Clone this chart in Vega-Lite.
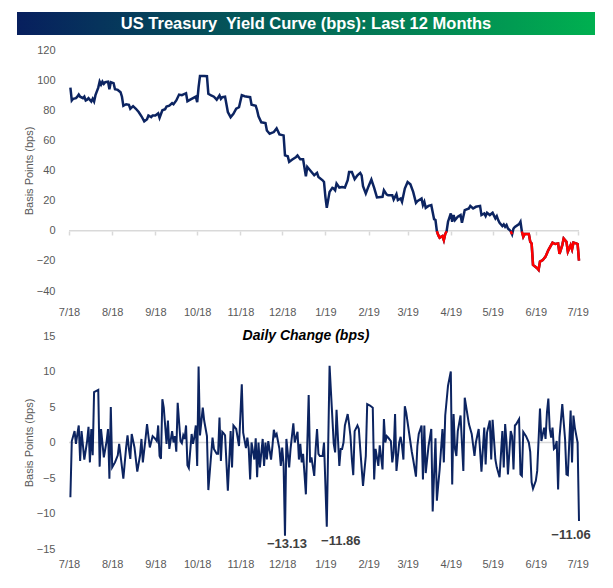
{
  "$schema": "https://vega.github.io/schema/vega-lite/v6.json",
  "padding": {"left": 17, "top": 12, "right": 10, "bottom": 5},
  "background": "white",
  "spacing": 9,
  "config": {
    "font": "Liberation Sans",
    "view": {"stroke": null},
    "axis": {"labelFont": "Liberation Sans", "labelColor": "#595959", "labelFontSize": 11, "titleFont": "Liberation Sans", "titleColor": "#595959", "titleFontSize": 11, "titleFontWeight": "normal", "grid": false, "domain": false, "ticks": false, "labelOverlap": false}
  },
  "datasets": {
    "banner": [{"title": "US Treasury\u00a0 Yield Curve (bps): Last 12 Months"}],
    "level": [
      {"date": "2018-07-02", "bps": 95}, {"date": "2018-07-03", "bps": 86.5}, {"date": "2018-07-04", "bps": 87.6}, {"date": "2018-07-06", "bps": 88}, {"date": "2018-07-07", "bps": 89}, {"date": "2018-07-08", "bps": 90.4}, {"date": "2018-07-09", "bps": 89}, {"date": "2018-07-11", "bps": 88}, {"date": "2018-07-12", "bps": 89}, {"date": "2018-07-13", "bps": 86.5}, {"date": "2018-07-14", "bps": 87}, {"date": "2018-07-15", "bps": 88}, {"date": "2018-07-17", "bps": 85.8}, {"date": "2018-07-18", "bps": 87.6}, {"date": "2018-07-19", "bps": 85.8}, {"date": "2018-07-20", "bps": 90}, {"date": "2018-07-22", "bps": 95}, {"date": "2018-07-23", "bps": 99}, {"date": "2018-07-24", "bps": 97}, {"date": "2018-07-25", "bps": 99}, {"date": "2018-07-26", "bps": 97.5}, {"date": "2018-07-27", "bps": 98.6}, {"date": "2018-07-29", "bps": 99}, {"date": "2018-07-30", "bps": 94}, {"date": "2018-07-31", "bps": 98.6},
      {"date": "2018-08-02", "bps": 98}, {"date": "2018-08-03", "bps": 94}, {"date": "2018-08-05", "bps": 93.5}, {"date": "2018-08-07", "bps": 92}, {"date": "2018-08-08", "bps": 89}, {"date": "2018-08-09", "bps": 83}, {"date": "2018-08-11", "bps": 84}, {"date": "2018-08-13", "bps": 83.6}, {"date": "2018-08-14", "bps": 81}, {"date": "2018-08-16", "bps": 82.7}, {"date": "2018-08-18", "bps": 81}, {"date": "2018-08-20", "bps": 78.8}, {"date": "2018-08-22", "bps": 76}, {"date": "2018-08-24", "bps": 72.6}, {"date": "2018-08-26", "bps": 74}, {"date": "2018-08-27", "bps": 76.5}, {"date": "2018-08-29", "bps": 75.4}, {"date": "2018-08-30", "bps": 76.5},
      {"date": "2018-09-01", "bps": 76.5}, {"date": "2018-09-03", "bps": 78}, {"date": "2018-09-04", "bps": 75}, {"date": "2018-09-06", "bps": 80}, {"date": "2018-09-08", "bps": 80.7}, {"date": "2018-09-09", "bps": 82.5}, {"date": "2018-09-11", "bps": 83}, {"date": "2018-09-13", "bps": 84.7}, {"date": "2018-09-14", "bps": 84}, {"date": "2018-09-16", "bps": 86.5}, {"date": "2018-09-18", "bps": 90.4}, {"date": "2018-09-20", "bps": 90}, {"date": "2018-09-23", "bps": 91.3}, {"date": "2018-09-24", "bps": 86}, {"date": "2018-09-26", "bps": 87}, {"date": "2018-09-28", "bps": 88}, {"date": "2018-09-30", "bps": 89},
      {"date": "2018-10-01", "bps": 85.4}, {"date": "2018-10-02", "bps": 95.3}, {"date": "2018-10-03", "bps": 102.8}, {"date": "2018-10-06", "bps": 102.8}, {"date": "2018-10-08", "bps": 102.6}, {"date": "2018-10-09", "bps": 91}, {"date": "2018-10-11", "bps": 89.8}, {"date": "2018-10-13", "bps": 89}, {"date": "2018-10-15", "bps": 87}, {"date": "2018-10-17", "bps": 89.8}, {"date": "2018-10-18", "bps": 87.6}, {"date": "2018-10-19", "bps": 88.7}, {"date": "2018-10-21", "bps": 89}, {"date": "2018-10-23", "bps": 78.8}, {"date": "2018-10-25", "bps": 75.4}, {"date": "2018-10-27", "bps": 77.6}, {"date": "2018-10-29", "bps": 81}, {"date": "2018-10-31", "bps": 82},
      {"date": "2018-11-02", "bps": 90}, {"date": "2018-11-04", "bps": 89.3}, {"date": "2018-11-06", "bps": 89}, {"date": "2018-11-08", "bps": 88.7}, {"date": "2018-11-09", "bps": 83.6}, {"date": "2018-11-12", "bps": 83}, {"date": "2018-11-13", "bps": 80}, {"date": "2018-11-14", "bps": 76}, {"date": "2018-11-16", "bps": 72}, {"date": "2018-11-19", "bps": 71.5}, {"date": "2018-11-20", "bps": 66.6}, {"date": "2018-11-22", "bps": 64.4}, {"date": "2018-11-25", "bps": 65.5}, {"date": "2018-11-27", "bps": 68}, {"date": "2018-11-29", "bps": 64},
      {"date": "2018-12-02", "bps": 63.3}, {"date": "2018-12-03", "bps": 50}, {"date": "2018-12-05", "bps": 49.4}, {"date": "2018-12-06", "bps": 45.7}, {"date": "2018-12-08", "bps": 47.2}, {"date": "2018-12-11", "bps": 49}, {"date": "2018-12-12", "bps": 50}, {"date": "2018-12-14", "bps": 47.4}, {"date": "2018-12-16", "bps": 47.4}, {"date": "2018-12-18", "bps": 36.2}, {"date": "2018-12-19", "bps": 42.4}, {"date": "2018-12-21", "bps": 40.2}, {"date": "2018-12-24", "bps": 36.8}, {"date": "2018-12-26", "bps": 38.4}, {"date": "2018-12-27", "bps": 35.7}, {"date": "2018-12-30", "bps": 33.5}, {"date": "2018-12-31", "bps": 32.4},
      {"date": "2019-01-01", "bps": 22.5}, {"date": "2019-01-02", "bps": 15.2}, {"date": "2019-01-04", "bps": 25.8}, {"date": "2019-01-06", "bps": 28.5}, {"date": "2019-01-07", "bps": 28}, {"date": "2019-01-08", "bps": 26.9}, {"date": "2019-01-09", "bps": 31.3}, {"date": "2019-01-11", "bps": 28.7}, {"date": "2019-01-13", "bps": 29.1}, {"date": "2019-01-15", "bps": 28.7}, {"date": "2019-01-17", "bps": 33.5}, {"date": "2019-01-18", "bps": 39}, {"date": "2019-01-20", "bps": 39}, {"date": "2019-01-22", "bps": 34.2}, {"date": "2019-01-24", "bps": 36.8}, {"date": "2019-01-26", "bps": 38.4}, {"date": "2019-01-27", "bps": 36.8}, {"date": "2019-01-28", "bps": 29.6}, {"date": "2019-01-30", "bps": 24.7},
      {"date": "2019-02-01", "bps": 29.6}, {"date": "2019-02-03", "bps": 34}, {"date": "2019-02-05", "bps": 28.5}, {"date": "2019-02-07", "bps": 22.1}, {"date": "2019-02-11", "bps": 22.5}, {"date": "2019-02-12", "bps": 26.9}, {"date": "2019-02-14", "bps": 24}, {"date": "2019-02-15", "bps": 23.6}, {"date": "2019-02-18", "bps": 23.6}, {"date": "2019-02-19", "bps": 20.7}, {"date": "2019-02-21", "bps": 24.3}, {"date": "2019-02-22", "bps": 20.3}, {"date": "2019-02-24", "bps": 21.4}, {"date": "2019-02-25", "bps": 19.2}, {"date": "2019-02-27", "bps": 28},
      {"date": "2019-03-01", "bps": 32.4}, {"date": "2019-03-03", "bps": 30.9}, {"date": "2019-03-05", "bps": 25.8}, {"date": "2019-03-07", "bps": 18.5}, {"date": "2019-03-08", "bps": 19.6}, {"date": "2019-03-11", "bps": 21.4}, {"date": "2019-03-12", "bps": 17}, {"date": "2019-03-13", "bps": 19.2}, {"date": "2019-03-14", "bps": 15.2}, {"date": "2019-03-16", "bps": 16.5}, {"date": "2019-03-18", "bps": 17}, {"date": "2019-03-20", "bps": 7.7}, {"date": "2019-03-21", "bps": 7.1},
      {"date": "2019-03-22", "bps": -0.3, "episode": 1}, {"date": "2019-03-23", "bps": -2.9, "episode": 1}, {"date": "2019-03-24", "bps": -4.6, "episode": 1}, {"date": "2019-03-26", "bps": -3.5, "episode": 1}, {"date": "2019-03-27", "bps": -6.2, "episode": 1}, {"date": "2019-03-28", "bps": -2.2, "episode": 1}, {"date": "2019-03-29", "bps": -0.3, "episode": 1},
      {"date": "2019-03-30", "bps": 6}, {"date": "2019-04-01", "bps": 11.5}, {"date": "2019-04-02", "bps": 6}, {"date": "2019-04-03", "bps": 10.4}, {"date": "2019-04-04", "bps": 7.1}, {"date": "2019-04-06", "bps": 9.3}, {"date": "2019-04-08", "bps": 10.4}, {"date": "2019-04-09", "bps": 5.3}, {"date": "2019-04-11", "bps": 13.7}, {"date": "2019-04-14", "bps": 14.8}, {"date": "2019-04-15", "bps": 16.5}, {"date": "2019-04-17", "bps": 14.8}, {"date": "2019-04-19", "bps": 15.9}, {"date": "2019-04-22", "bps": 16.5}, {"date": "2019-04-23", "bps": 10.4}, {"date": "2019-04-25", "bps": 11.5}, {"date": "2019-04-26", "bps": 9.7}, {"date": "2019-04-27", "bps": 11.9}, {"date": "2019-04-29", "bps": 10.4},
      {"date": "2019-05-01", "bps": 11.9}, {"date": "2019-05-03", "bps": 8.2}, {"date": "2019-05-04", "bps": 9.7}, {"date": "2019-05-05", "bps": 7.1}, {"date": "2019-05-06", "bps": 5.3}, {"date": "2019-05-08", "bps": 3.1}, {"date": "2019-05-09", "bps": 4.2}, {"date": "2019-05-10", "bps": 2.6}, {"date": "2019-05-11", "bps": 3.8}, {"date": "2019-05-12", "bps": 1.5},
      {"date": "2019-05-14", "bps": -0.3, "episode": 2}, {"date": "2019-05-15", "bps": -2.4, "episode": 2},
      {"date": "2019-05-16", "bps": 1.5}, {"date": "2019-05-17", "bps": 2.6}, {"date": "2019-05-20", "bps": 4.4}, {"date": "2019-05-21", "bps": 6},
      {"date": "2019-05-22", "bps": -0.5, "episode": 3}, {"date": "2019-05-23", "bps": -4, "episode": 3}, {"date": "2019-05-24", "bps": -2.2, "episode": 3}, {"date": "2019-05-26", "bps": -2.2, "episode": 3}, {"date": "2019-05-27", "bps": -2.2, "episode": 3}, {"date": "2019-05-28", "bps": -7.3, "episode": 3}, {"date": "2019-05-29", "bps": -8.4, "episode": 3}, {"date": "2019-05-30", "bps": -22.7, "episode": 3},
      {"date": "2019-06-02", "bps": -24.9, "episode": 3}, {"date": "2019-06-03", "bps": -26, "episode": 3}, {"date": "2019-06-04", "bps": -20.5, "episode": 3}, {"date": "2019-06-06", "bps": -19.4, "episode": 3}, {"date": "2019-06-08", "bps": -17.2, "episode": 3}, {"date": "2019-06-10", "bps": -12.8, "episode": 3}, {"date": "2019-06-13", "bps": -7.9, "episode": 3}, {"date": "2019-06-15", "bps": -8.8, "episode": 3}, {"date": "2019-06-17", "bps": -8.4, "episode": 3}, {"date": "2019-06-18", "bps": -15.4, "episode": 3}, {"date": "2019-06-20", "bps": -9.5, "episode": 3}, {"date": "2019-06-21", "bps": -5.1, "episode": 3}, {"date": "2019-06-23", "bps": -7.3, "episode": 3}, {"date": "2019-06-24", "bps": -13.9, "episode": 3}, {"date": "2019-06-26", "bps": -9.5, "episode": 3}, {"date": "2019-06-27", "bps": -12.4, "episode": 3}, {"date": "2019-06-28", "bps": -7.9, "episode": 3}, {"date": "2019-06-30", "bps": -8.4, "episode": 3}, {"date": "2019-07-01", "bps": -8.8, "episode": 3}, {"date": "2019-07-02", "bps": -19.9, "episode": 3}
    ],
    "daily": [
      {"date": "2018-07-02", "change": -7.7}, {"date": "2018-07-03", "change": 0.2}, {"date": "2018-07-05", "change": 1.6}, {"date": "2018-07-06", "change": -0.2}, {"date": "2018-07-07", "change": 1.2}, {"date": "2018-07-08", "change": 2.4}, {"date": "2018-07-09", "change": -2.6}, {"date": "2018-07-10", "change": 1.6}, {"date": "2018-07-12", "change": -2.4}, {"date": "2018-07-14", "change": 0.2}, {"date": "2018-07-15", "change": 2.2}, {"date": "2018-07-16", "change": -2.8}, {"date": "2018-07-17", "change": 1.9}, {"date": "2018-07-18", "change": -1.8}, {"date": "2018-07-19", "change": 7.1}, {"date": "2018-07-21", "change": 7.3}, {"date": "2018-07-22", "change": 7.4}, {"date": "2018-07-23", "change": -3.4}, {"date": "2018-07-24", "change": 1.9}, {"date": "2018-07-26", "change": -2.1}, {"date": "2018-07-28", "change": 0.2}, {"date": "2018-07-29", "change": 1.9}, {"date": "2018-07-30", "change": -5.1}, {"date": "2018-07-31", "change": 5.0},
      {"date": "2018-08-01", "change": -3.5}, {"date": "2018-08-03", "change": -2.8}, {"date": "2018-08-05", "change": -1.8}, {"date": "2018-08-06", "change": -0.2}, {"date": "2018-08-07", "change": -1.8}, {"date": "2018-08-09", "change": -5.1}, {"date": "2018-08-11", "change": -0.7}, {"date": "2018-08-12", "change": 1.0}, {"date": "2018-08-13", "change": -0.9}, {"date": "2018-08-14", "change": -2.3}, {"date": "2018-08-15", "change": 1.2}, {"date": "2018-08-17", "change": -0.7}, {"date": "2018-08-19", "change": -4.1}, {"date": "2018-08-21", "change": -1.8}, {"date": "2018-08-22", "change": 0.5}, {"date": "2018-08-23", "change": -2.8}, {"date": "2018-08-25", "change": 0.7}, {"date": "2018-08-26", "change": 2.6}, {"date": "2018-08-27", "change": 0.9}, {"date": "2018-08-28", "change": -0.7}, {"date": "2018-08-30", "change": 0.9},
      {"date": "2018-09-01", "change": 0.5}, {"date": "2018-09-02", "change": 0.2}, {"date": "2018-09-03", "change": 2.4}, {"date": "2018-09-04", "change": -1.9}, {"date": "2018-09-05", "change": -2.3}, {"date": "2018-09-06", "change": 6.1}, {"date": "2018-09-07", "change": 4.9}, {"date": "2018-09-08", "change": 2.4}, {"date": "2018-09-09", "change": -0.2}, {"date": "2018-09-10", "change": 3.1}, {"date": "2018-09-11", "change": -0.9}, {"date": "2018-09-13", "change": 1.6}, {"date": "2018-09-14", "change": 0}, {"date": "2018-09-15", "change": 0.9}, {"date": "2018-09-16", "change": -1.3}, {"date": "2018-09-17", "change": 5.6}, {"date": "2018-09-19", "change": 0.2}, {"date": "2018-09-20", "change": -0.1}, {"date": "2018-09-21", "change": 1.0}, {"date": "2018-09-22", "change": 0.5}, {"date": "2018-09-23", "change": 2.4}, {"date": "2018-09-24", "change": -3.2}, {"date": "2018-09-25", "change": -3.6}, {"date": "2018-09-27", "change": 1.2}, {"date": "2018-09-28", "change": -0.2}, {"date": "2018-09-29", "change": 0.8}, {"date": "2018-09-30", "change": 2.4},
      {"date": "2018-10-01", "change": -3.3}, {"date": "2018-10-02", "change": 10.7}, {"date": "2018-10-03", "change": 1.0}, {"date": "2018-10-05", "change": 4.9}, {"date": "2018-10-06", "change": 3.1}, {"date": "2018-10-08", "change": 0.9}, {"date": "2018-10-09", "change": -6.7}, {"date": "2018-10-12", "change": 0.7}, {"date": "2018-10-13", "change": -0.9}, {"date": "2018-10-15", "change": -1.6}, {"date": "2018-10-16", "change": -1.6}, {"date": "2018-10-17", "change": 3.5}, {"date": "2018-10-18", "change": -2.6}, {"date": "2018-10-19", "change": 1.5}, {"date": "2018-10-20", "change": 1.3}, {"date": "2018-10-21", "change": 1.0}, {"date": "2018-10-23", "change": -6.8}, {"date": "2018-10-25", "change": 1.6}, {"date": "2018-10-26", "change": -3.5}, {"date": "2018-10-27", "change": 2.4}, {"date": "2018-10-29", "change": 1.9}, {"date": "2018-10-31", "change": -0.5},
      {"date": "2018-11-02", "change": 8.2}, {"date": "2018-11-03", "change": 1.4}, {"date": "2018-11-05", "change": -0.8}, {"date": "2018-11-06", "change": 0.7}, {"date": "2018-11-07", "change": -0.9}, {"date": "2018-11-08", "change": -5.2}, {"date": "2018-11-09", "change": 0}, {"date": "2018-11-11", "change": -2.4}, {"date": "2018-11-12", "change": 0.6}, {"date": "2018-11-13", "change": -4.9}, {"date": "2018-11-14", "change": 0}, {"date": "2018-11-15", "change": -3.5}, {"date": "2018-11-17", "change": 0.5}, {"date": "2018-11-18", "change": -3.3}, {"date": "2018-11-19", "change": 0}, {"date": "2018-11-20", "change": -2.4}, {"date": "2018-11-21", "change": 0.2}, {"date": "2018-11-23", "change": -2.4}, {"date": "2018-11-24", "change": -0.5}, {"date": "2018-11-25", "change": 1.8}, {"date": "2018-11-26", "change": 0.9}, {"date": "2018-11-27", "change": 1.2}, {"date": "2018-11-29", "change": -0.9}, {"date": "2018-11-30", "change": -3.3},
      {"date": "2018-12-01", "change": -0.7}, {"date": "2018-12-02", "change": -3.1}, {"date": "2018-12-03", "change": -13.13}, {"date": "2018-12-04", "change": 0.5}, {"date": "2018-12-06", "change": -3.5}, {"date": "2018-12-07", "change": -0.9}, {"date": "2018-12-08", "change": 0.9}, {"date": "2018-12-09", "change": 2.7}, {"date": "2018-12-10", "change": 0}, {"date": "2018-12-12", "change": 1.5}, {"date": "2018-12-13", "change": -2.4}, {"date": "2018-12-14", "change": -0.2}, {"date": "2018-12-15", "change": -2.8}, {"date": "2018-12-16", "change": -1.6}, {"date": "2018-12-18", "change": -7.3}, {"date": "2018-12-20", "change": 6.7}, {"date": "2018-12-21", "change": -2.8}, {"date": "2018-12-22", "change": -2.1}, {"date": "2018-12-24", "change": -4.7}, {"date": "2018-12-25", "change": -0.9}, {"date": "2018-12-26", "change": 1.9}, {"date": "2018-12-27", "change": -1.6}, {"date": "2018-12-28", "change": -1.9}, {"date": "2018-12-30", "change": -1.9}, {"date": "2018-12-31", "change": 0},
      {"date": "2019-01-02", "change": -11.86}, {"date": "2019-01-04", "change": 10.8}, {"date": "2019-01-05", "change": 7.1}, {"date": "2019-01-07", "change": -0.2}, {"date": "2019-01-08", "change": -1.4}, {"date": "2019-01-09", "change": 4.6}, {"date": "2019-01-11", "change": -3.3}, {"date": "2019-01-12", "change": -0.9}, {"date": "2019-01-13", "change": -0.9}, {"date": "2019-01-14", "change": 0}, {"date": "2019-01-15", "change": 2.4}, {"date": "2019-01-17", "change": 4.0}, {"date": "2019-01-18", "change": 2.6}, {"date": "2019-01-19", "change": 0.9}, {"date": "2019-01-20", "change": -2.4}, {"date": "2019-01-21", "change": -4.6}, {"date": "2019-01-22", "change": 1.6}, {"date": "2019-01-24", "change": 2.4}, {"date": "2019-01-25", "change": 1.9}, {"date": "2019-01-26", "change": -0.9}, {"date": "2019-01-28", "change": -6.1}, {"date": "2019-01-30", "change": -1.9}, {"date": "2019-01-31", "change": 5.4},
      {"date": "2019-02-02", "change": 5.2}, {"date": "2019-02-04", "change": 4.9}, {"date": "2019-02-05", "change": -5.2}, {"date": "2019-02-06", "change": -0.9}, {"date": "2019-02-08", "change": -3.3}, {"date": "2019-02-09", "change": -0.4}, {"date": "2019-02-11", "change": -3.8}, {"date": "2019-02-12", "change": 3.3}, {"date": "2019-02-13", "change": 0}, {"date": "2019-02-14", "change": 0.9}, {"date": "2019-02-15", "change": 0.7}, {"date": "2019-02-17", "change": 0.2}, {"date": "2019-02-18", "change": -2.8}, {"date": "2019-02-19", "change": -1.4}, {"date": "2019-02-20", "change": 4.0}, {"date": "2019-02-21", "change": -4.0}, {"date": "2019-02-23", "change": 0}, {"date": "2019-02-24", "change": 0.8}, {"date": "2019-02-25", "change": -0.5}, {"date": "2019-02-26", "change": -2.4}, {"date": "2019-02-27", "change": 5.1}, {"date": "2019-02-28", "change": 4.2},
      {"date": "2019-03-04", "change": -1.3}, {"date": "2019-03-05", "change": -2.4}, {"date": "2019-03-07", "change": -4.8}, {"date": "2019-03-08", "change": -0.5}, {"date": "2019-03-09", "change": 1.2}, {"date": "2019-03-11", "change": 2.4}, {"date": "2019-03-12", "change": -5.2}, {"date": "2019-03-13", "change": 2.4}, {"date": "2019-03-14", "change": -4.3}, {"date": "2019-03-16", "change": -0.5}, {"date": "2019-03-18", "change": 1.9}, {"date": "2019-03-19", "change": -9.7}, {"date": "2019-03-21", "change": 0.6}, {"date": "2019-03-22", "change": -8.2}, {"date": "2019-03-23", "change": -5.9}, {"date": "2019-03-24", "change": -3.8}, {"date": "2019-03-26", "change": 1.9}, {"date": "2019-03-27", "change": -2.8}, {"date": "2019-03-28", "change": 3.8}, {"date": "2019-03-30", "change": 8.0},
      {"date": "2019-04-01", "change": 10.0}, {"date": "2019-04-02", "change": -5.9}, {"date": "2019-04-03", "change": 4.0}, {"date": "2019-04-04", "change": -0.9}, {"date": "2019-04-05", "change": -1.9}, {"date": "2019-04-06", "change": 1.6}, {"date": "2019-04-08", "change": 3.8}, {"date": "2019-04-10", "change": -4.0}, {"date": "2019-04-11", "change": 6.3}, {"date": "2019-04-14", "change": 2.6}, {"date": "2019-04-15", "change": 1.9}, {"date": "2019-04-16", "change": 1.2}, {"date": "2019-04-18", "change": -1.9}, {"date": "2019-04-19", "change": 0}, {"date": "2019-04-21", "change": 1.9}, {"date": "2019-04-23", "change": -4.1}, {"date": "2019-04-25", "change": 2.1}, {"date": "2019-04-26", "change": -3.1}, {"date": "2019-04-27", "change": 1.4}, {"date": "2019-04-29", "change": 3.1}, {"date": "2019-04-30", "change": -2.4},
      {"date": "2019-05-01", "change": 3.2}, {"date": "2019-05-03", "change": -2.4}, {"date": "2019-05-04", "change": -3.5}, {"date": "2019-05-06", "change": -4.9}, {"date": "2019-05-08", "change": 1.6}, {"date": "2019-05-09", "change": -3.5}, {"date": "2019-05-10", "change": 2.6}, {"date": "2019-05-11", "change": 0}, {"date": "2019-05-12", "change": -4.5}, {"date": "2019-05-14", "change": 1.6}, {"date": "2019-05-15", "change": 0.9}, {"date": "2019-05-16", "change": -3.8}, {"date": "2019-05-17", "change": 2.4}, {"date": "2019-05-18", "change": 2.6}, {"date": "2019-05-20", "change": 3.3}, {"date": "2019-05-21", "change": -4.5}, {"date": "2019-05-22", "change": -4.7}, {"date": "2019-05-23", "change": 1.5}, {"date": "2019-05-25", "change": 0.9}, {"date": "2019-05-27", "change": 0}, {"date": "2019-05-28", "change": -1.3}, {"date": "2019-05-29", "change": -5.6}, {"date": "2019-05-30", "change": -6.5},
      {"date": "2019-06-01", "change": -5.4}, {"date": "2019-06-02", "change": -4.0}, {"date": "2019-06-04", "change": 4.8}, {"date": "2019-06-05", "change": 0.2}, {"date": "2019-06-07", "change": 2.1}, {"date": "2019-06-08", "change": 0.5}, {"date": "2019-06-09", "change": 4.2}, {"date": "2019-06-10", "change": 6.2}, {"date": "2019-06-11", "change": 1.9}, {"date": "2019-06-12", "change": 0.7}, {"date": "2019-06-13", "change": 2.1}, {"date": "2019-06-14", "change": -0.9}, {"date": "2019-06-15", "change": -0.7}, {"date": "2019-06-16", "change": 0.2}, {"date": "2019-06-17", "change": -6.6}, {"date": "2019-06-18", "change": 0.7}, {"date": "2019-06-20", "change": 5.4}, {"date": "2019-06-22", "change": 0.5}, {"date": "2019-06-23", "change": -4.5}, {"date": "2019-06-24", "change": -4.6}, {"date": "2019-06-26", "change": 4.5}, {"date": "2019-06-27", "change": -2.8}, {"date": "2019-06-28", "change": 3.8}, {"date": "2019-06-29", "change": 2.1}, {"date": "2019-07-01", "change": 0}, {"date": "2019-07-02", "change": -11.06}
    ]
  },
  "vconcat": [
    {
      "width": 578,
      "height": 23,
      "data": {"name": "banner"},
      "view": {"stroke": null, "fill": {"gradient": "linear", "x1": 0, "y1": 0, "x2": 1, "y2": 0, "stops": [{"offset": 0, "color": "#071f5e"}, {"offset": 1, "color": "#00b050"}]}},
      "mark": {"type": "text", "color": "white", "fontWeight": "bold", "fontSize": 16.5, "font": "Liberation Sans", "align": "center", "baseline": "middle"},
      "encoding": {"text": {"field": "title"}}
    },
    {
      "spacing": 12,
      "vconcat": [
        {
          "width": 562,
          "height": 241,
          "data": {"name": "level"},
          "layer": [
            {
              "data": {"values": [{}]},
              "mark": {"type": "rule", "color": "#d9d9d9", "strokeWidth": 1.5},
              "encoding": {
                "x": {"datum": {"year": 2018, "month": 7, "date": 1, "utc": true}, "type": "temporal", "axis": null},
                "x2": {"datum": {"year": 2019, "month": 7, "date": 2, "utc": true}},
                "y": {"datum": 0, "type": "quantitative", "axis": null}
              }
            },
            {
              "mark": {"type": "line", "color": "#0c2461", "strokeWidth": 2.5},
              "encoding": {
                "x": {"field": "date", "type": "temporal", "scale": {"type": "utc", "domain": [{"year": 2018, "month": 7, "date": 1, "utc": true}, {"year": 2019, "month": 7, "date": 2, "utc": true}], "range": [52, 562]}, "axis": {"orient": "bottom", "format": "%-m/%y", "tickCount": {"interval": "month", "step": 1}, "labelPadding": 15, "tickSize": 0, "labelFlush": false, "labelOverlap": false, "title": null}},
                "y": {"field": "bps", "type": "quantitative", "scale": {"domain": [-40, 120], "nice": false}, "axis": {"orient": "left", "offset": -52, "values": [-40, -20, 0, 20, 40, 60, 80, 100, 120], "labelOverlap": false, "title": "Basis Points (bps)", "labelPadding": 14, "titlePadding": 2, "tickSize": 0}}
              }
            },
            {
              "transform": [{"filter": {"field": "episode", "valid": true}}],
              "mark": {"type": "line", "color": "#ff0000", "strokeWidth": 2.5},
              "encoding": {
                "x": {"field": "date", "type": "temporal", "axis": {"orient": "bottom", "offset": -60, "labels": false, "domain": false, "ticks": true, "tickSize": 4, "tickColor": "#d9d9d9", "tickWidth": 1.5, "tickCount": {"interval": "month", "step": 1}, "title": null}},
                "y": {"field": "bps", "type": "quantitative", "axis": null},
                "detail": {"field": "episode", "type": "nominal"}
              }
            }
          ],
          "resolve": {"axis": {"x": "independent", "y": "independent"}}
        },
        {
          "width": 562,
          "height": 213,
          "data": {"name": "daily"},
          "title": {"text": "Daily Change (bps)", "font": "Liberation Sans", "fontStyle": "italic", "fontWeight": "bold", "fontSize": 14, "color": "black", "anchor": "middle", "baseline": "middle", "offset": -20, "dx": 8},
          "layer": [
            {
              "data": {"values": [{}]},
              "mark": {"type": "rule", "color": "#d9d9d9", "strokeWidth": 1.5},
              "encoding": {
                "x": {"datum": {"year": 2018, "month": 7, "date": 1, "utc": true}, "type": "temporal", "axis": null},
                "x2": {"datum": {"year": 2019, "month": 7, "date": 2, "utc": true}},
                "y": {"datum": 0, "type": "quantitative", "axis": null}
              }
            },
            {
              "mark": {"type": "line", "color": "#0c2461", "strokeWidth": 2},
              "encoding": {
                "x": {"field": "date", "type": "temporal", "scale": {"type": "utc", "domain": [{"year": 2018, "month": 7, "date": 1, "utc": true}, {"year": 2019, "month": 7, "date": 2, "utc": true}], "range": [52, 562]}, "axis": {"orient": "bottom", "format": "%-m/%y", "tickCount": {"interval": "month", "step": 1}, "labelPadding": 9, "tickSize": 0, "labelFlush": false, "labelOverlap": false, "title": null}},
                "y": {"field": "change", "type": "quantitative", "scale": {"domain": [-15, 15], "nice": false}, "axis": {"orient": "left", "offset": -52, "values": [-15, -10, -5, 0, 5, 10, 15], "labelOverlap": false, "title": "Basis Points (bps)", "labelPadding": 14, "titlePadding": 2, "tickSize": 0}}
              }
            },
            {
              "transform": [{"filter": "datum.change == -13.13"}],
              "mark": {"type": "text", "fontWeight": "bold", "fontSize": 13, "color": "#404040", "baseline": "middle", "dx": 2, "dy": 8},
              "encoding": {"x": {"field": "date", "type": "temporal", "axis": null}, "y": {"field": "change", "type": "quantitative", "axis": null}, "text": {"field": "change", "type": "quantitative", "format": ".2f"}}
            },
            {
              "transform": [{"filter": "datum.change == -11.86"}],
              "mark": {"type": "text", "fontWeight": "bold", "fontSize": 13, "color": "#404040", "baseline": "middle", "dx": 14, "dy": 14},
              "encoding": {"x": {"field": "date", "type": "temporal", "axis": null}, "y": {"field": "change", "type": "quantitative", "axis": null}, "text": {"field": "change", "type": "quantitative", "format": ".2f"}}
            },
            {
              "transform": [{"filter": "datum.change == -11.06"}],
              "mark": {"type": "text", "fontWeight": "bold", "fontSize": 13, "color": "#404040", "baseline": "middle", "dx": -8, "dy": 14},
              "encoding": {"x": {"field": "date", "type": "temporal", "axis": null}, "y": {"field": "change", "type": "quantitative", "axis": null}, "text": {"field": "change", "type": "quantitative", "format": ".2f"}}
            }
          ],
          "resolve": {"axis": {"x": "independent", "y": "independent"}}
        }
      ]
    }
  ]
}
